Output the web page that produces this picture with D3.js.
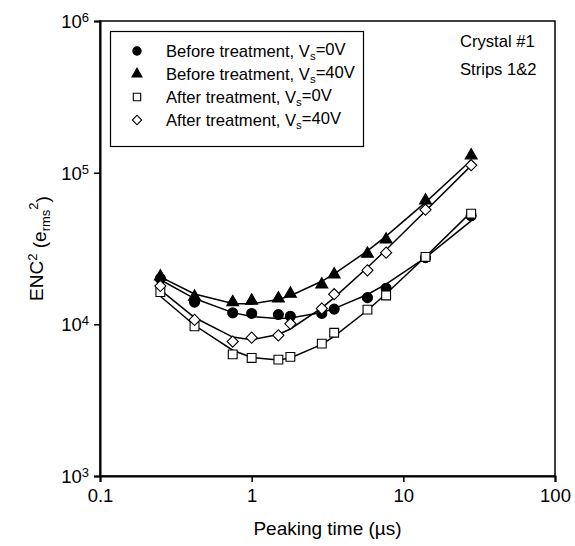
<!DOCTYPE html>
<html>
<head>
<meta charset="utf-8">
<script src="https://cdn.jsdelivr.net/npm/d3@7"></script>
<style>
  body { margin: 0; background: #fff; }
  text { font-family: "Liberation Sans", Arial, sans-serif; fill: #000; }
</style>
</head>
<body>
<script>
// peaking times (us)
const tau = [0.25, 0.42, 0.75, 1.0, 1.5, 1.8, 2.9, 3.5, 5.8, 7.7, 14, 28];

// ENC^2 values (e_rms^2)
const before0V  = [20000, 14000, 11900, 11800, 11600, 11300, 11800, 12600, 15000, 17300, 27500, 52000];
const before40V = [20700, 15200, 14000, 14300, 14800, 15900, 18300, 21300, 29200, 36200, 65600, 130000];
const after0V   = [16300, 9700, 6340, 6000, 5850, 6100, 7460, 8800, 12500, 15500, 27800, 53700];
const after40V  = [17900, 10700, 7700, 8170, 8460, 10100, 12700, 15800, 22700, 29700, 57000, 112000];

const xTicks = [0.1, 1, 10, 100];
const yExp = [3, 4, 5, 6];

const legendLabels = [
  ["Before treatment, V", "s", "=0V"],
  ["Before treatment, V", "s", "=40V"],
  ["After treatment, V", "s", "=0V"],
  ["After treatment, V", "s", "=40V"],
];
const notes = ["Crystal #1", "Strips 1&2"];

const W = 575, H = 546;
const m = {left: 100, right: 20, top: 21, bottom: 70};

const svg = d3.select("body").append("svg")
  .attr("width", W)
  .attr("height", H);

const x = d3.scaleLog().domain([0.1, 100]).range([m.left, W - m.right]);
const y = d3.scaleLog().domain([1e3, 1e6]).range([H - m.bottom, m.top]);

// frame
svg.append("rect")
  .attr("x", x(0.1)).attr("y", y(1e6))
  .attr("width", x(100) - x(0.1)).attr("height", y(1e3) - y(1e6))
  .attr("fill", "none").attr("stroke", "#000").attr("stroke-width", 1.5);

// axes
const gx = svg.append("g")
  .attr("transform", `translate(0,${y(1e3)})`)
  .call(d3.axisBottom(x).tickValues(xTicks).tickFormat(d3.format("")).tickSize(6).tickPadding(7));
gx.select(".domain").attr("stroke-width", 2);
gx.selectAll(".tick line").attr("stroke-width", 1.5);
gx.selectAll(".tick text").style("font-size", "18.5px").attr("font-family", null);

const gy = svg.append("g")
  .attr("transform", `translate(${x(0.1)},0)`)
  .call(d3.axisLeft(y).tickValues(yExp.map(e => Math.pow(10, e))).tickFormat("").tickSize(6));
gy.select(".domain").attr("stroke-width", 2);
gy.selectAll(".tick line").attr("stroke-width", 1.5);

gy.selectAll(".tick").append("text")
  .attr("x", -11).attr("dy", "0.35em")
  .attr("text-anchor", "end")
  .style("font-size", "18.5px")
  .each(function(d) {
    const t = d3.select(this);
    t.append("tspan").text("10");
    t.append("tspan").attr("dy", "-0.45em").style("font-size", "13px").text(Math.round(Math.log10(d)));
  });

// axis titles
svg.append("text")
  .attr("x", (x(0.1) + x(100)) / 2).attr("y", 535)
  .attr("text-anchor", "middle")
  .style("font-size", "19px")
  .text("Peaking time (\u00b5s)");

const yt = svg.append("text")
  .attr("transform", `translate(43,${(y(1e3) + y(1e6)) / 2}) rotate(-90)`)
  .attr("text-anchor", "middle")
  .style("font-size", "19px");
yt.append("tspan").text("ENC");
yt.append("tspan").attr("dy", "-0.45em").style("font-size", "13px").text("2");
yt.append("tspan").attr("dy", "0.45em").text(" (e");
yt.append("tspan").attr("dy", "0.3em").style("font-size", "13px").text("rms");
yt.append("tspan").attr("dy", "-0.9em").style("font-size", "13px").text("2");
yt.append("tspan").attr("dy", "0.6em").text(")");

// least squares fit of A/t + B + C t with relative weights
function fit(vals) {
  const M = [[0,0,0],[0,0,0],[0,0,0]], v = [0,0,0];
  tau.forEach((t, i) => {
    const f = [1 / t, 1, t], w = 1 / (vals[i] * vals[i]);
    for (let a = 0; a < 3; a++) {
      v[a] += w * f[a] * vals[i];
      for (let b = 0; b < 3; b++) M[a][b] += w * f[a] * f[b];
    }
  });
  // gaussian elimination
  for (let c = 0; c < 3; c++) {
    for (let r = c + 1; r < 3; r++) {
      const k = M[r][c] / M[c][c];
      for (let b = c; b < 3; b++) M[r][b] -= k * M[c][b];
      v[r] -= k * v[c];
    }
  }
  const p = [0,0,0];
  for (let r = 2; r >= 0; r--) {
    let s = v[r];
    for (let b = r + 1; b < 3; b++) s -= M[r][b] * p[b];
    p[r] = s / M[r][r];
  }
  return tau.map(t => ({t: t, v: p[0] / t + p[1] + p[2] * t}));
}

// diamond drawn as a square turned 45 degrees
const series = [
  {vals: before0V, sym: d3.symbolCircle, size: 78, fill: "#000", rot: 0},
  {vals: before40V, sym: d3.symbolTriangle, size: 62, fill: "#000", rot: 0},
  {vals: after0V, sym: d3.symbolSquare, size: 78, fill: "#fff", rot: 0},
  {vals: after40V, sym: d3.symbolSquare, size: 62, fill: "#fff", rot: 45},
];

const line = d3.line()
  .x(d => x(d.t))
  .y(d => y(d.v))
  .curve(d3.curveLinear);

series.forEach(s => {
  svg.append("path")
    .attr("fill", "none")
    .attr("stroke", "#000")
    .attr("stroke-width", 1.5)
    .attr("d", line(fit(s.vals)));
});

series.forEach((s, k) => {
  svg.selectAll("path.pt" + k)
    .data(s.vals)
    .enter()
    .append("path")
    .attr("class", "pt" + k)
    .attr("transform", (d, i) => `translate(${x(tau[i])},${y(d)}) rotate(${s.rot})`)
    .attr("d", d3.symbol().type(s.sym).size(s.size))
    .attr("fill", s.fill)
    .attr("stroke", "#000")
    .attr("stroke-width", 1.1);
});

// legend
const lg = svg.append("g");
lg.append("rect")
  .attr("x", 110.5).attr("y", 31.5).attr("width", 253).attr("height", 115)
  .attr("fill", "#fff").attr("stroke", "#000").attr("stroke-width", 1.2);

legendLabels.forEach((lab, i) => {
  const cy = 51 + i * 23;
  const s = series[i];
  lg.append("path")
    .attr("transform", `translate(137,${cy}) rotate(${s.rot})`)
    .attr("d", d3.symbol().type(s.sym).size(s.size * 0.7))
    .attr("fill", s.fill).attr("stroke", "#000").attr("stroke-width", 1.1);
  const t = lg.append("text")
    .attr("x", 166).attr("y", cy + 6)
    .style("font-size", "16.6px");
  t.append("tspan").text(lab[0]);
  t.append("tspan").attr("dy", "0.3em").style("font-size", "11.5px").text(lab[1]);
  t.append("tspan").attr("dy", "-0.3em").text(lab[2]);
});

notes.forEach((n, i) => {
  svg.append("text")
    .attr("x", 460).attr("y", 47 + i * 27.5)
    .style("font-size", "16.6px")
    .text(n);
});
</script>
</body>
</html>
